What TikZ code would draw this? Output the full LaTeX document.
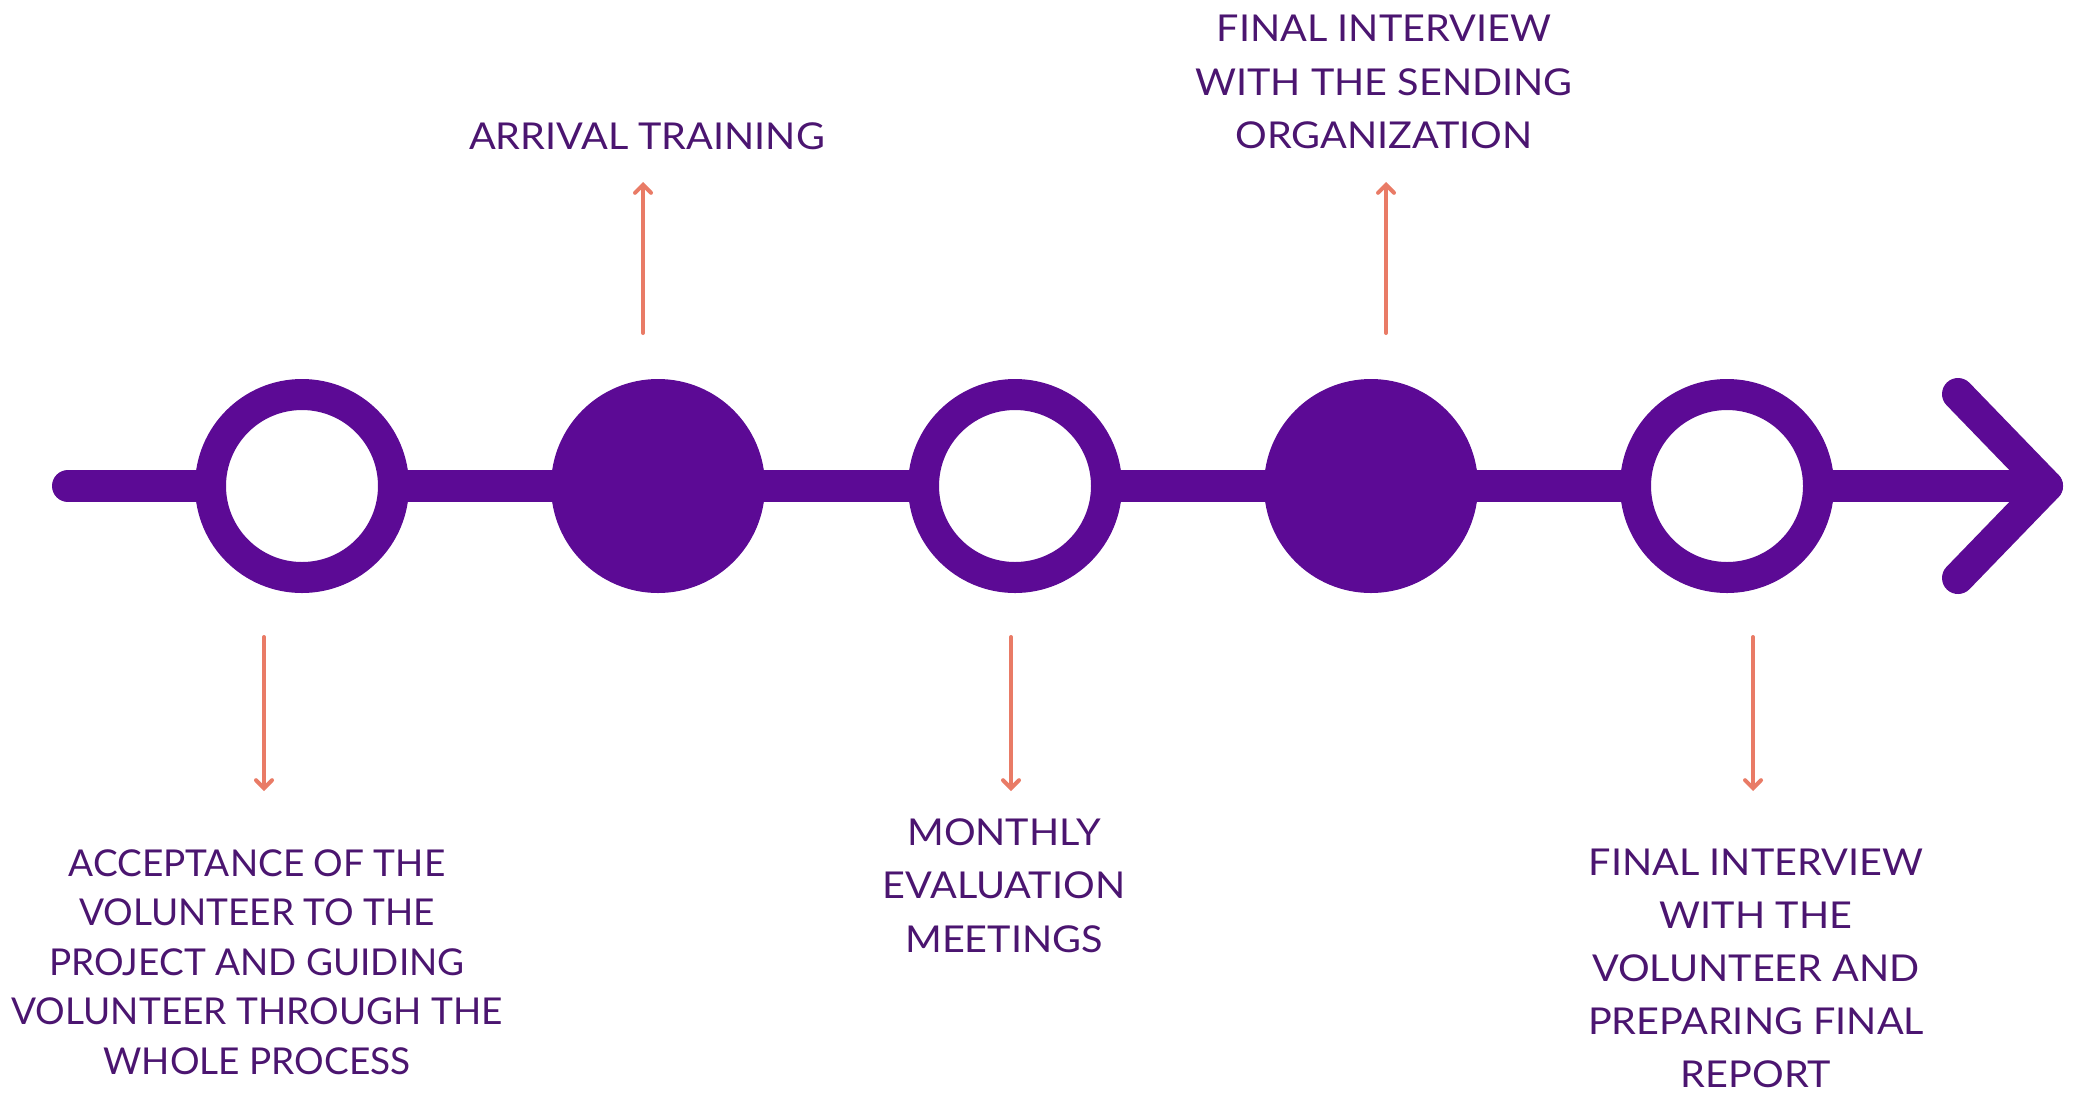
\documentclass[tikz,border=0pt]{standalone}
\usepackage{fontspec}
\setmainfont{Lato}
\newfontfamily\widefont{Lato}[FakeStretch=1.07]
\usetikzlibrary{arrows.meta}
\definecolor{violet}{HTML}{5C0A95}
\definecolor{txt}{HTML}{4B1570}
\definecolor{coral}{HTML}{E97B66}
\tikzset{
  mainline/.style={draw=violet, line width=32pt, line cap=round, line join=round},
  ring/.style={circle, draw=violet, line width=31pt, fill=white, minimum size=183pt, inner sep=0pt},
  dot/.style={circle, fill=violet, minimum size=214pt, inner sep=0pt},
  tick/.style={draw=coral, line width=4pt, line cap=round, -{Straight Barb[length=8pt, width=16pt, line cap=round]}},
  lbl/.style={text=txt, align=center, inner sep=0pt, anchor=north, font=\widefont\fontsize{37}{53.5}\selectfont},
}
\begin{document}
\begin{tikzpicture}[x=1pt, y=-1pt]
\useasboundingbox (0,0) rectangle (2076,1096);
% main line
\coordinate (start) at (68,486);
\coordinate (tip) at (2047,486);
\coordinate (armup) at (1958,394);
\coordinate (armdn) at (1958,578);
\draw[mainline] (start) -- (tip);
\draw[mainline] (armup) -- (tip) -- (armdn);
% circles
\node[ring] (c1) at (302,486) {};
\node[dot]  (c2) at (658,486) {};
\node[ring] (c3) at (1015,486) {};
\node[dot]  (c4) at (1371,486) {};
\node[ring] (c5) at (1727,486) {};
% labels
\node[lbl, font=\rmfamily\fontsize{37}{49.5}\selectfont] (t1) at (257,849) {ACCEPTANCE OF THE\\VOLUNTEER TO THE\\PROJECT AND GUIDING\\VOLUNTEER THROUGH THE\\WHOLE PROCESS};
\node[lbl] (t2) at (647,122) {ARRIVAL TRAINING};
\node[lbl] (t3) at (1004,818) {MONTHLY\\EVALUATION\\MEETINGS};
\node[lbl] (t4) at (1384,15) {FINAL INTERVIEW\\WITH THE SENDING\\ORGANIZATION};
\node[lbl, font=\widefont\fontsize{37}{53}\selectfont] (t5) at (1756,849) {FINAL INTERVIEW\\WITH THE\\VOLUNTEER AND\\PREPARING FINAL\\REPORT};
% small arrows
\coordinate (a1s) at (264,637); \coordinate (a1e) at (264,791);
\coordinate (a2s) at (643,333); \coordinate (a2e) at (643,182);
\coordinate (a3s) at (1011,637); \coordinate (a3e) at (1011,791);
\coordinate (a4s) at (1386,333); \coordinate (a4e) at (1386,182);
\coordinate (a5s) at (1753,637); \coordinate (a5e) at (1753,791);
\draw[tick] (a1s) -- (a1e);
\draw[tick] (a2s) -- (a2e);
\draw[tick] (a3s) -- (a3e);
\draw[tick] (a4s) -- (a4e);
\draw[tick] (a5s) -- (a5e);
\end{tikzpicture}
\end{document}
